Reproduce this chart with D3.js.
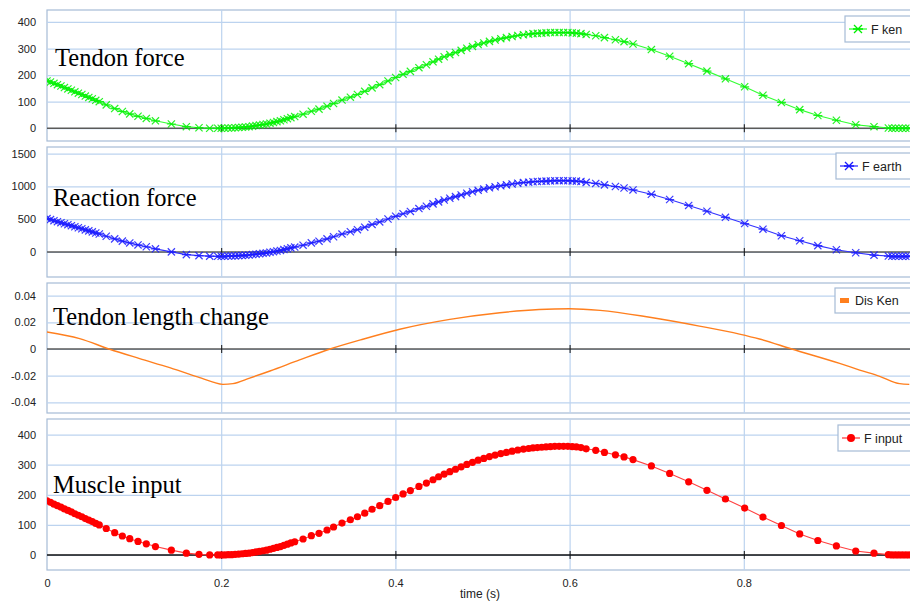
<!DOCTYPE html>
<html>
<head>
<meta charset="utf-8">
<script src="https://cdn.jsdelivr.net/npm/d3@7"></script>
<style>
  body { margin: 0; background: #fff; }
  svg { display: block; font-family: "Liberation Sans", Arial, sans-serif; }
</style>
</head>
<body>
<svg id="chart" width="910" height="601"></svg>
<script>
'use strict';

// Solver time steps (s), shared by the three marked series.
const time = [
  0, 0.004, 0.008, 0.012, 0.016, 0.02, 0.024, 0.028, 0.032, 0.036, 0.04, 0.044, 0.048, 0.052, 0.056,
  0.06, 0.068, 0.0777, 0.0865, 0.095, 0.1045, 0.114, 0.1245, 0.1428, 0.16, 0.1745, 0.1868, 0.196,
  0.2, 0.204, 0.208, 0.212, 0.216, 0.22, 0.224, 0.228, 0.232, 0.236, 0.24, 0.244, 0.248, 0.252, 0.256,
  0.26, 0.264, 0.268, 0.272, 0.276, 0.28, 0.2844,
  0.294, 0.3035, 0.3123, 0.3215, 0.329, 0.3387, 0.3483, 0.3564, 0.3648, 0.3732, 0.382, 0.3915, 0.4003,
  0.4088, 0.4172, 0.427, 0.4356,
  0.4432, 0.4496, 0.456, 0.4625, 0.469, 0.4755, 0.482, 0.4885, 0.495, 0.5015, 0.508, 0.5145, 0.521,
  0.5275, 0.534, 0.5405, 0.547, 0.553, 0.558, 0.563, 0.568, 0.573, 0.578, 0.583, 0.588, 0.593, 0.598,
  0.603, 0.6078, 0.613,
  0.619, 0.63, 0.64, 0.6526, 0.6625, 0.6728, 0.6939, 0.7149, 0.7367, 0.7577, 0.7789, 0.801, 0.822,
  0.8432, 0.8642, 0.885, 0.9063, 0.9285, 0.9495,
  0.966, 0.97, 0.974, 0.978, 0.982, 0.986, 0.99
];

const fKen = [
  178, 174, 169, 164, 159, 153, 148, 143, 137, 132, 127, 121, 116, 111, 105,
  100, 88, 74, 63, 54, 45, 37, 28, 16, 6, 2, 0, 0,
  0, 0, 1, 1, 2, 3, 4, 5, 6, 8, 10, 12, 14, 16, 19,
  22, 25, 28, 32, 36, 40, 44,
  53, 64, 72, 83, 93, 106, 117, 127, 139, 152, 164, 178, 191,
  203, 214, 228, 239,
  250, 260, 269, 277, 285, 293, 301, 308, 315, 321, 327, 332, 337,
  341, 345, 349, 352, 354, 356, 357, 358, 359, 360, 360, 360, 360, 360,
  359, 358, 356,
  353, 348, 341, 333, 326, 317, 296, 271, 243, 215, 186, 156, 124,
  97, 70, 48, 30, 13, 6,
  1, 0, 0, 0, 0, 0, 0
];

const fEarth = [
  509, 494, 477, 462, 447, 430, 416, 401, 384, 369, 354, 337, 322, 307, 290,
  275, 240, 200, 166, 138, 108, 80, 48, 2, -40, -55, -63, -65,
  -65, -65, -62, -62, -59, -55, -52, -49, -46, -39, -33, -27, -20, -14, -4,
  5, 15, 24, 37, 50, 63, 75,
  104, 139, 165, 200, 232, 273, 308, 340, 378, 420, 458, 503, 544,
  583, 618, 662, 697,
  733, 764, 793, 819, 844, 870, 895, 918, 940, 959, 978, 994, 1010,
  1023, 1036, 1048, 1058, 1064, 1071, 1074, 1077, 1080, 1083, 1087, 1087, 1087, 1087,
  1083, 1080, 1074,
  1061, 1045, 1023, 998, 975, 946, 879, 800, 710, 621, 528, 433, 348,
  248, 172, 97, 34, -12, -48,
  -62, -65, -65, -65, -65, -65, -65
];

const fInput = [
  180, 175, 169, 164, 159, 153, 148, 143, 137, 132, 127, 121, 116, 111, 105,
  100, 88, 74, 63, 54, 45, 37, 28, 16, 6, 2, 0, 0,
  0, 0, 1, 1, 2, 3, 4, 5, 6, 8, 10, 12, 14, 16, 19,
  22, 25, 28, 32, 36, 40, 44,
  53, 64, 72, 83, 93, 106, 117, 127, 139, 152, 164, 178, 191,
  203, 214, 228, 239,
  250, 260, 269, 277, 285, 293, 301, 308, 315, 321, 327, 332, 337,
  341, 345, 349, 352, 354, 356, 357, 358, 359, 360, 361, 361, 361, 361,
  360, 359, 357,
  353, 348, 341, 333, 326, 317, 296, 271, 243, 215, 186, 156, 126,
  98, 70, 48, 30, 13, 6,
  1, 0, 0, 0, 0, 0, 0
];

// Tendon length change has its own (unmarked) samples.
const disTime = [
  0, 0.0375, 0.072, 0.1064, 0.1409, 0.1753, 0.1906, 0.202, 0.2135, 0.2327, 0.256, 0.29, 0.325,
  0.36, 0.405, 0.4625, 0.52, 0.565, 0.6, 0.635, 0.692, 0.749, 0.795, 0.818, 0.855, 0.91, 0.933,
  0.956, 0.979, 0.99
];
const disKen = [
  0.0128, 0.0078, -0.0002, -0.0072, -0.014, -0.0215, -0.0248, -0.0265, -0.026, -0.0218, -0.0165,
  -0.0082, 0, 0.0068, 0.0148, 0.0222, 0.0272, 0.0296, 0.0302, 0.029, 0.0238, 0.0172, 0.0112, 0.0075,
  0, -0.0108, -0.0158, -0.0205, -0.026, -0.0265
];

const xTicks = [0, 0.2, 0.4, 0.6, 0.8];
const yTicksKen = [0, 100, 200, 300, 400];
const yTicksEarth = [0, 500, 1000, 1500];
const yTicksDis = [-0.04, -0.02, 0, 0.02, 0.04];
const yTicksInput = [0, 100, 200, 300, 400];

const svg = d3.select('#chart');
const left = 47, right = 912;
const x = d3.scaleLinear().domain([0, 1]).range([left, left + 871]);

// Six-armed star: a horizontal bar crossed by an x.
const asterisk = {
  draw(ctx, size) {
    const r = Math.sqrt(size) / 2;
    ctx.moveTo(-r, 0); ctx.lineTo(r, 0);
    ctx.moveTo(-r * 0.8, -r * 0.8); ctx.lineTo(r * 0.8, r * 0.8);
    ctx.moveTo(-r * 0.8, r * 0.8); ctx.lineTo(r * 0.8, -r * 0.8);
  }
};

const panels = [
  { title: 'Tendon force', tx: 55, ty: 66, top: 10, bottom: 141, domain: [-48, 445],
    ticks: yTicksKen, xs: time, ys: fKen, color: '#00f000', line: '#33ff33', kind: 'star',
    label: 'F ken', box: [845, 16, 70, 26], zero: '#5a5a5a' },
  { title: 'Reaction force', tx: 53, ty: 206, top: 147, bottom: 277, domain: [-381, 1600],
    ticks: yTicksEarth, xs: time, ys: fEarth, color: '#1a1aff', line: '#3333ff', kind: 'star',
    label: 'F earth', box: [836, 153, 80, 26], zero: '#5a5a5a' },
  { title: 'Tendon length change', tx: 53, ty: 325, top: 283, bottom: 413, domain: [-0.048, 0.0495],
    ticks: yTicksDis, xs: disTime, ys: disKen, color: '#ff7f1e', line: '#ff7f1e', kind: 'none',
    label: 'Dis Ken', box: [835, 288, 80, 25], zero: '#5a5a5a' },
  { title: 'Muscle input', tx: 53, ty: 493, top: 419, bottom: 570, domain: [-50, 452],
    ticks: yTicksInput, xs: time, ys: fInput, color: '#ff0000', line: '#ff4040', kind: 'dot',
    label: 'F input', box: [838, 425, 80, 26], zero: '#111' }
];

panels.forEach((p, i) => {
  const y = d3.scaleLinear().domain(p.domain).range([p.bottom, p.top]);
  const g = svg.append('g').attr('class', 'panel-' + i);
  const clipId = 'clip' + i;

  g.append('clipPath').attr('id', clipId)
    .append('rect').attr('x', left).attr('y', p.top).attr('width', right - left).attr('height', p.bottom - p.top);

  g.append('rect')
    .attr('x', left).attr('y', p.top).attr('width', right - left).attr('height', p.bottom - p.top)
    .attr('fill', '#fff').attr('stroke', '#a6bbd6').attr('stroke-width', 1.2);

  // Grid.
  g.append('g').attr('transform', `translate(${left},0)`)
    .call(d3.axisLeft(y).tickValues(p.ticks).tickSize(-(right - left)).tickFormat(''))
    .call(s => s.select('.domain').remove())
    .call(s => s.selectAll('line').attr('stroke', '#bcd3ef').attr('stroke-width', 1.2));
  g.append('g').attr('transform', `translate(0,${p.bottom})`)
    .call(d3.axisBottom(x).tickValues(xTicks.slice(1)).tickSize(-(p.bottom - p.top)).tickFormat(''))
    .call(s => s.select('.domain').remove())
    .call(s => s.selectAll('line').attr('stroke', '#bcd3ef').attr('stroke-width', 1.2));

  // Zero line with tick marks.
  g.append('g').attr('transform', `translate(0,${y(0)})`)
    .call(d3.axisBottom(x).tickValues(xTicks.slice(1)).tickSize(4).tickSizeOuter(0).tickFormat(''))
    .call(s => s.select('.domain').attr('stroke', p.zero).attr('stroke-width', 1.5)
      .attr('d', `M${left},0H${right}`))
    .call(s => s.selectAll('.tick line').attr('stroke', '#111').attr('y1', -4));

  // Y labels.
  g.append('g').attr('transform', `translate(${left - 11},0)`)
    .call(d3.axisLeft(y).tickValues(p.ticks).tickSize(0).tickPadding(0).tickFormat(d => d))
    .call(s => s.select('.domain').remove())
    .call(s => s.selectAll('text').attr('font-size', 11).attr('fill', '#222')
      .attr('font-family', '"Liberation Sans", Arial, sans-serif'));

  // Title.
  g.append('text').attr('x', p.tx).attr('y', p.ty).text(p.title)
    .attr('font-family', '"Liberation Serif", "Times New Roman", serif')
    .attr('font-size', 24.5).attr('fill', '#000');

  // Series.
  const pts = p.xs.map((t, k) => [t, p.ys[k]]);
  const plot = g.append('g').attr('clip-path', `url(#${clipId})`);
  plot.append('path').datum(pts)
    .attr('fill', 'none').attr('stroke', p.line).attr('stroke-width', p.kind === 'none' ? 1.4 : 1.1)
    .attr('d', d3.line().curve(p.kind === 'none' ? d3.curveMonotoneX : d3.curveLinear)
      .x(d => x(d[0])).y(d => y(d[1])));

  if (p.kind === 'star') {
    plot.selectAll('path.mk').data(pts).enter().append('path').attr('class', 'mk')
      .attr('transform', d => `translate(${x(d[0])},${y(d[1])})`)
      .attr('d', d3.symbol(asterisk, 81))
      .attr('fill', 'none').attr('stroke', p.color).attr('stroke-width', 1.2).attr('stroke-opacity', 0.85);
  } else if (p.kind === 'dot') {
    plot.selectAll('circle').data(pts).enter().append('circle')
      .attr('cx', d => x(d[0])).attr('cy', d => y(d[1])).attr('r', 3.6)
      .attr('fill', p.color);
  }

  // Legend.
  const [bx, by, bw, bh] = p.box;
  const lg = g.append('g');
  lg.append('rect').attr('x', bx).attr('y', by).attr('width', bw).attr('height', bh)
    .attr('fill', '#fff').attr('stroke', '#a6bbd6').attr('stroke-width', 1.2);
  const my = by + bh / 2;
  if (p.kind === 'none') {
    lg.append('rect').attr('x', bx + 5).attr('y', my - 2.5).attr('width', 9).attr('height', 5)
      .attr('fill', p.color);
  } else {
    lg.append('line').attr('x1', bx + 4).attr('x2', bx + 22).attr('y1', my).attr('y2', my)
      .attr('stroke', p.line).attr('stroke-width', 1.3);
    if (p.kind === 'star') {
      lg.append('path').attr('transform', `translate(${bx + 13},${my})`)
        .attr('d', d3.symbol(asterisk, 100))
        .attr('fill', 'none').attr('stroke', p.color).attr('stroke-width', 1.3);
    } else {
      lg.append('circle').attr('cx', bx + 13).attr('cy', my).attr('r', 4).attr('fill', p.color);
    }
  }
  lg.append('text').attr('x', p.kind === 'none' ? bx + 20 : bx + 26).attr('y', my + 4.5)
    .text(p.label).attr('font-size', 12.5).attr('fill', '#222');
});

// Bottom time axis labels.
const xLab = svg.append('g').attr('transform', 'translate(0,571)')
  .call(d3.axisBottom(x).tickValues(xTicks).tickSize(0).tickPadding(8).tickFormat(d => d));
xLab.select('.domain').remove();
xLab.selectAll('text').attr('font-size', 11).attr('fill', '#222')
  .attr('font-family', '"Liberation Sans", Arial, sans-serif');

svg.append('text').attr('x', 480).attr('y', 598).attr('text-anchor', 'middle')
  .attr('font-size', 12).attr('fill', '#222').text('time (s)');
</script>
</body>
</html>
